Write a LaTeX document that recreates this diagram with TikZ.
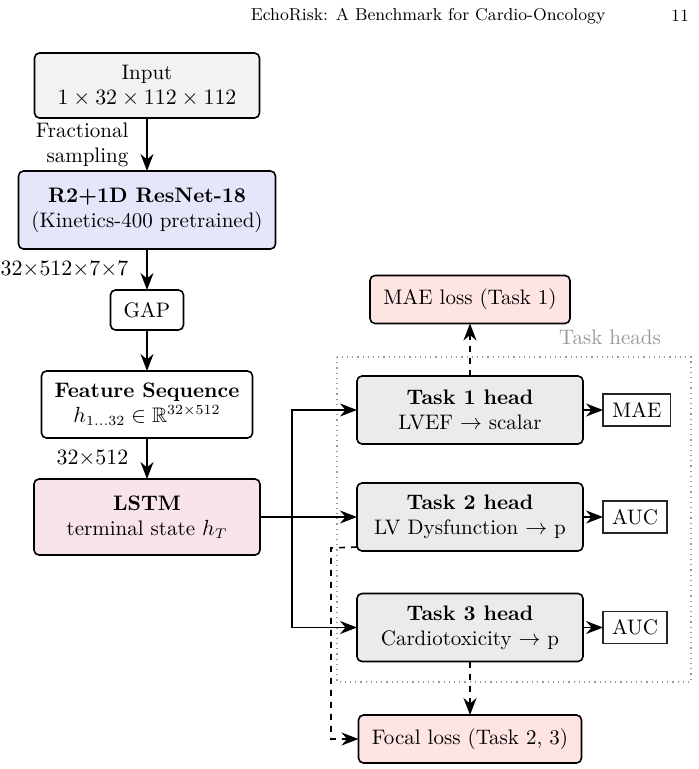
\documentclass[tikz,border=0pt]{standalone}
\usepackage{amsmath,amssymb}
\usepackage{tikz}
\usetikzlibrary{arrows.meta,positioning,calc}
\definecolor{cInput}{HTML}{F2F2F2}
\definecolor{cBack}{HTML}{E6E6FA}
\definecolor{cLstm}{HTML}{F8E3EA}
\definecolor{cLoss}{HTML}{FFE4E4}
\definecolor{cHead}{HTML}{EBEBEB}

\begin{document}
\begin{tikzpicture}[x=0.5pt,y=-0.5pt,font=\fontsize{10.5pt}{12.5pt}\selectfont,
  every node/.style={outer sep=0pt},
  blk/.style={draw,thick,rounded corners=2.5pt,align=center,inner sep=2pt},
  headblk/.style={blk,fill=cHead,minimum width=113pt,minimum height=34pt},
  lossblk/.style={blk,fill=cLoss,minimum height=24pt},
  metric/.style={draw=black!85,semithick,inner xsep=4.5pt,inner ysep=2pt,minimum height=16pt},
  flow/.style={-{Stealth[length=8.5pt,width=6.5pt]},thick},
  lossflow/.style={flow,dashed},
  dimlbl/.style={midway,left=6pt,align=right}]

\useasboundingbox (0,0) rectangle (698,769);

% running head
\node[font=\fontsize{8.6pt}{10pt}\selectfont,anchor=east] (hd) at (612,16)
  {EchoRisk: A Benchmark for Cardio-Oncology};
\node[font=\fontsize{8.6pt}{10pt}\selectfont] (pg) at (680,16) {11};

% encoder column
\node[blk,fill=cInput,minimum width=112.5pt,minimum height=32.5pt] (inp) at (147,85.5)
  {Input\\$1\times32\times112\times112$};
\node[blk,fill=cBack,minimum width=128.5pt,minimum height=39pt] (bb) at (147,210)
  {\textbf{R2+1D ResNet-18}\\(Kinetics-400 pretrained)};
\node[blk,minimum width=36.5pt,minimum height=20pt] (gap) at (147,310) {GAP};
\node[blk,minimum width=105.5pt,minimum height=33.5pt] (feat) at (147,404.5)
  {\textbf{Feature Sequence}\\$h_{1\ldots32}\in\mathbb{R}^{32\times512}$};
\node[blk,fill=cLstm,minimum width=113pt,minimum height=38pt] (lstm) at (147,517)
  {\textbf{LSTM}\\terminal state $h_T$};

\draw[flow] (inp) -- (bb) node[dimlbl] {Fractional\\sampling};
\draw[flow] (bb) -- (gap) node[dimlbl] {$32{\times}512{\times}7{\times}7$};
\draw[flow] (gap) -- (feat);
\draw[flow] (feat) -- (lstm) node[dimlbl] {$32{\times}512$};

% task heads
\draw[dotted,black!40,semithick] (337,357) rectangle (691,682);
\node[text=black!40] (thl) at (610,337) {Task heads};

\node[headblk] (t1) at (470,410) {\textbf{Task 1 head}\\LVEF $\rightarrow$ scalar};
\node[headblk] (t2) at (470,517) {\textbf{Task 2 head}\\LV Dysfunction $\rightarrow$ p};
\node[headblk] (t3) at (470,627.5) {\textbf{Task 3 head}\\Cardiotoxicity $\rightarrow$ p};

\node[metric,anchor=west] (m1) at ($(t1.east)+(20,0)$) {MAE};
\node[metric,anchor=west] (m2) at ($(t2.east)+(20,0)$) {AUC};
\node[metric,anchor=west] (m3) at ($(t3.east)+(20,0)$) {AUC};

\coordinate (br) at (292,517);
\draw[flow] (lstm.east) -- (t2.west);
\draw[flow] (br) |- (t1.west);
\draw[flow] (br) |- (t3.west);
\draw[flow] (t1) -- (m1);
\draw[flow] (t2) -- (m2);
\draw[flow] (t3) -- (m3);

% losses
\node[lossblk,minimum width=100pt] (maeloss) at (470,299.5) {MAE loss (Task 1)};
\node[lossblk,minimum width=111.5pt] (focal) at (470,739) {Focal loss (Task 2, 3)};

\coordinate (dl) at (331,548);
\draw[lossflow] (t1.north) -- (maeloss.south);
\draw[lossflow] (t3.south) -- (focal.north);
\draw[lossflow] ($(t2.south west)+(0,-4)$) -- (dl) |- (focal.west);
\end{tikzpicture}
\end{document}
